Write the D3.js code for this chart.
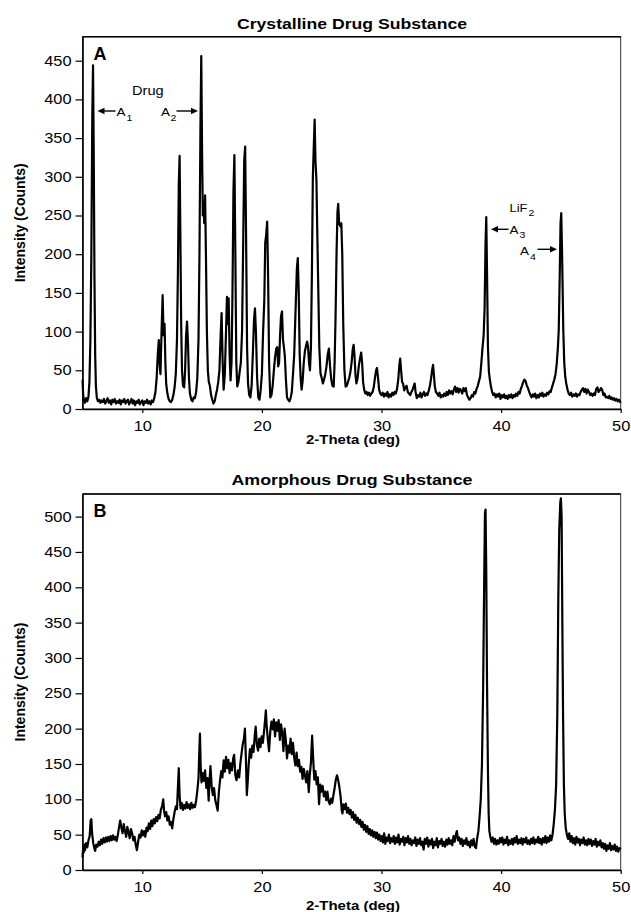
<!DOCTYPE html>
<html><head><meta charset="utf-8">
<script src="https://cdn.jsdelivr.net/npm/d3@7"></script>
<style>
body{margin:0;background:#fff}
svg{display:block}
text{font-family:"Liberation Sans",Arial,Helvetica,sans-serif;fill:#000}
</style>
</head><body>
<svg id="c" width="631" height="912"></svg>
<script>
// ---------------- DATA ----------------
const xTicks = [10, 20, 30, 40, 50];
const yTicksA = [0, 50, 100, 150, 200, 250, 300, 350, 400, 450];
const yTicksB = [0, 50, 100, 150, 200, 250, 300, 350, 400, 450, 500];
const titleA = "Crystalline Drug Substance";
const titleB = "Amorphous Drug Substance";
const xLabel = "2-Theta (deg)";
const yLabel = "Intensity (Counts)";

// Panel A: crystalline drug + LiF2 standard  [2-theta, counts]
const crystalline = [[5.0,38],[5.05,20],[5.1,12],[5.2,8],[5.3,14],[5.4,10],[5.5,16],[5.58,35],[5.66,90],[5.74,200],[5.82,380],[5.88,444],[5.94,330],[6.0,170],[6.06,70],[6.12,30],[6.2,14],[6.3,10],[6.4,12],[6.5,8],[6.6,11],[6.7,9],[6.8,13],[6.9,7],[7.0,10],[7.1,14],[7.2,8],[7.3,11],[7.4,6],[7.5,12],[7.6,9],[7.7,13],[7.8,7],[7.9,10],[8.0,8],[8.1,12],[8.2,6],[8.3,11],[8.4,9],[8.5,13],[8.6,7],[8.7,10],[8.8,12],[8.9,6],[9.0,9],[9.1,13],[9.2,7],[9.3,11],[9.4,5],[9.5,10],[9.6,8],[9.7,12],[9.8,6],[9.9,9],[10.0,11],[10.1,5],[10.2,10],[10.3,8],[10.4,12],[10.5,7],[10.6,10],[10.7,6],[10.8,11],[10.9,9],[11.0,14],[11.1,22],[11.2,40],[11.3,72],[11.38,89],[11.45,58],[11.52,45],[11.6,95],[11.7,147],[11.78,95],[11.86,110],[11.93,60],[12.0,32],[12.1,20],[12.2,13],[12.3,10],[12.4,9],[12.5,12],[12.6,18],[12.7,28],[12.8,45],[12.9,90],[12.98,180],[13.05,290],[13.12,327],[13.18,230],[13.25,110],[13.32,50],[13.4,30],[13.5,28],[13.58,50],[13.66,95],[13.74,113],[13.82,85],[13.9,40],[13.98,20],[14.1,12],[14.2,10],[14.3,15],[14.4,14],[14.5,22],[14.6,40],[14.7,90],[14.78,200],[14.86,360],[14.93,456],[15.0,330],[15.06,250],[15.12,265],[15.18,240],[15.25,276],[15.32,200],[15.4,100],[15.48,50],[15.56,35],[15.65,30],[15.75,18],[15.85,12],[15.95,7],[16.05,10],[16.15,18],[16.25,25],[16.35,35],[16.45,50],[16.55,95],[16.63,124],[16.72,60],[16.8,25],[16.9,45],[17.0,100],[17.08,145],[17.15,110],[17.22,143],[17.3,70],[17.38,37],[17.46,60],[17.54,150],[17.62,280],[17.7,328],[17.78,200],[17.86,60],[17.94,29],[18.04,35],[18.14,48],[18.24,60],[18.34,100],[18.44,220],[18.52,320],[18.6,339],[18.68,220],[18.76,80],[18.84,33],[18.94,18],[19.04,15],[19.14,30],[19.24,70],[19.34,115],[19.42,130],[19.5,100],[19.6,40],[19.7,15],[19.8,12],[19.9,25],[20.0,46],[20.1,100],[20.2,140],[20.28,215],[20.36,225],[20.44,242],[20.52,170],[20.6,60],[20.7,15],[20.8,18],[20.9,30],[21.0,50],[21.1,67],[21.2,78],[21.28,80],[21.36,55],[21.44,60],[21.52,95],[21.6,120],[21.68,126],[21.76,90],[21.84,80],[21.92,68],[22.0,40],[22.1,15],[22.2,12],[22.3,10],[22.4,14],[22.5,22],[22.6,45],[22.7,70],[22.8,120],[22.92,180],[23.0,195],[23.08,150],[23.16,70],[23.24,40],[23.32,25],[23.4,35],[23.5,60],[23.6,75],[23.7,82],[23.78,87],[23.86,80],[23.94,60],[24.02,50],[24.1,80],[24.18,175],[24.26,300],[24.34,340],[24.41,374],[24.48,320],[24.56,295],[24.64,220],[24.72,150],[24.8,80],[24.9,46],[25.0,40],[25.1,33],[25.2,38],[25.3,45],[25.4,55],[25.5,70],[25.6,78],[25.7,55],[25.8,38],[25.9,30],[26.0,29],[26.08,60],[26.16,120],[26.24,200],[26.32,255],[26.38,265],[26.46,240],[26.56,236],[26.64,240],[26.72,200],[26.8,111],[26.9,50],[27.0,29],[27.1,30],[27.2,35],[27.3,40],[27.4,48],[27.5,60],[27.6,78],[27.67,83],[27.74,70],[27.82,45],[27.9,33],[28.0,40],[28.1,55],[28.2,65],[28.3,73],[28.38,60],[28.46,35],[28.55,25],[28.65,20],[28.75,22],[28.85,18],[28.95,21],[29.05,17],[29.15,20],[29.25,22],[29.35,28],[29.45,40],[29.55,50],[29.62,53],[29.7,42],[29.8,25],[29.9,20],[30.0,18],[30.1,21],[30.2,16],[30.3,20],[30.4,17],[30.5,22],[30.6,15],[30.7,19],[30.8,16],[30.9,21],[31.0,18],[31.1,22],[31.2,20],[31.3,26],[31.4,38],[31.5,58],[31.56,65],[31.64,50],[31.72,35],[31.8,33],[31.9,24],[32.0,28],[32.1,30],[32.2,22],[32.3,20],[32.4,18],[32.5,22],[32.6,25],[32.7,30],[32.77,33],[32.85,22],[32.95,14],[33.05,18],[33.15,16],[33.25,21],[33.35,15],[33.45,19],[33.55,22],[33.65,17],[33.75,20],[33.85,18],[33.95,24],[34.05,30],[34.15,40],[34.25,52],[34.31,57],[34.38,45],[34.45,30],[34.55,22],[34.65,20],[34.75,17],[34.85,21],[34.95,15],[35.05,18],[35.15,16],[35.25,20],[35.35,17],[35.45,22],[35.55,18],[35.65,24],[35.75,20],[35.85,23],[35.95,19],[36.05,25],[36.15,29],[36.25,22],[36.35,27],[36.45,21],[36.55,26],[36.65,24],[36.75,20],[36.85,27],[36.95,23],[37.05,27],[37.15,18],[37.25,15],[37.35,12],[37.45,14],[37.55,18],[37.65,16],[37.75,22],[37.85,20],[37.95,26],[38.05,30],[38.15,36],[38.25,42],[38.35,60],[38.45,80],[38.54,95],[38.62,130],[38.7,215],[38.76,248],[38.82,180],[38.9,80],[38.98,48],[39.06,38],[39.15,29],[39.25,22],[39.35,18],[39.45,20],[39.55,15],[39.65,19],[39.75,16],[39.85,20],[39.95,13],[40.05,18],[40.15,15],[40.25,19],[40.35,14],[40.45,17],[40.55,13],[40.65,18],[40.75,15],[40.85,19],[40.95,14],[41.05,18],[41.15,16],[41.25,20],[41.35,17],[41.45,22],[41.55,20],[41.65,26],[41.75,30],[41.85,35],[41.95,38],[42.05,36],[42.15,30],[42.25,27],[42.35,22],[42.45,18],[42.55,15],[42.65,19],[42.75,16],[42.85,20],[42.95,14],[43.05,18],[43.15,15],[43.25,20],[43.35,17],[43.45,21],[43.55,16],[43.65,19],[43.75,17],[43.85,21],[43.95,19],[44.05,23],[44.15,22],[44.25,28],[44.35,33],[44.45,38],[44.55,45],[44.65,58],[44.75,80],[44.82,102],[44.9,170],[44.97,240],[45.03,253],[45.1,200],[45.2,102],[45.28,60],[45.36,42],[45.45,33],[45.55,25],[45.65,20],[45.75,18],[45.85,21],[45.95,16],[46.05,19],[46.15,17],[46.25,20],[46.35,16],[46.45,19],[46.55,18],[46.65,22],[46.75,25],[46.85,27],[46.95,22],[47.05,26],[47.15,20],[47.25,25],[47.35,22],[47.45,18],[47.55,20],[47.65,17],[47.75,20],[47.85,18],[47.95,26],[48.05,28],[48.15,22],[48.25,24],[48.35,27],[48.45,25],[48.55,18],[48.65,20],[48.75,15],[48.85,16],[48.95,14],[49.05,17],[49.15,13],[49.25,15],[49.35,12],[49.45,14],[49.55,11],[49.65,13],[49.75,10],[49.85,12],[49.95,9],[50.0,10]];

// Panel B: amorphous drug + LiF2 standard  [2-theta, counts]
const amorphous = [[5.0,18],[5.05,30],[5.1,25],[5.15,36],[5.2,28],[5.3,38],[5.4,32],[5.5,42],[5.6,48],[5.68,70],[5.74,72],[5.8,52],[5.9,38],[6.0,30],[6.06,27],[6.15,36],[6.25,33],[6.35,40],[6.45,35],[6.55,43],[6.65,37],[6.75,45],[6.85,39],[6.95,46],[7.05,40],[7.15,47],[7.25,41],[7.35,48],[7.45,42],[7.55,49],[7.65,43],[7.75,47],[7.85,41],[7.95,49],[8.05,60],[8.15,70],[8.25,60],[8.35,52],[8.45,65],[8.55,55],[8.65,47],[8.75,61],[8.85,53],[8.95,45],[9.05,58],[9.15,52],[9.25,42],[9.35,47],[9.45,36],[9.55,28],[9.65,40],[9.75,50],[9.85,46],[9.95,56],[10.05,49],[10.15,55],[10.25,47],[10.35,60],[10.45,55],[10.55,66],[10.65,58],[10.75,70],[10.85,62],[10.95,72],[11.05,66],[11.15,75],[11.25,69],[11.35,78],[11.45,73],[11.55,85],[11.65,90],[11.75,100],[11.82,84],[11.9,76],[12.0,82],[12.1,70],[12.2,76],[12.3,64],[12.4,68],[12.5,59],[12.6,72],[12.7,82],[12.8,90],[12.9,86],[12.98,118],[13.05,144],[13.12,105],[13.2,87],[13.3,95],[13.4,85],[13.5,92],[13.6,87],[13.7,96],[13.8,88],[13.9,93],[14.0,86],[14.1,95],[14.2,88],[14.3,92],[14.4,89],[14.5,98],[14.6,112],[14.7,130],[14.76,165],[14.82,193],[14.88,148],[14.95,124],[15.05,137],[15.15,126],[15.25,141],[15.35,116],[15.45,130],[15.55,98],[15.62,126],[15.7,147],[15.8,118],[15.9,106],[16.0,116],[16.1,99],[16.2,92],[16.3,84],[16.4,110],[16.5,127],[16.6,140],[16.7,131],[16.8,155],[16.9,139],[17.0,160],[17.1,144],[17.2,156],[17.3,137],[17.4,151],[17.5,141],[17.6,158],[17.68,163],[17.78,134],[17.88,127],[18.0,141],[18.1,131],[18.2,151],[18.3,165],[18.4,178],[18.5,186],[18.58,200],[18.66,158],[18.74,106],[18.82,126],[18.9,151],[19.0,171],[19.1,159],[19.2,176],[19.3,167],[19.4,190],[19.48,203],[19.58,177],[19.68,169],[19.78,186],[19.88,174],[19.98,189],[20.08,180],[20.18,196],[20.28,215],[20.33,226],[20.4,204],[20.5,184],[20.6,168],[20.7,196],[20.8,210],[20.9,199],[21.0,213],[21.1,189],[21.2,209],[21.3,197],[21.4,212],[21.5,184],[21.6,206],[21.7,194],[21.8,168],[21.9,200],[22.0,184],[22.1,158],[22.2,176],[22.3,166],[22.4,186],[22.5,164],[22.6,180],[22.7,159],[22.8,148],[22.9,166],[23.0,147],[23.1,156],[23.2,139],[23.3,146],[23.4,129],[23.5,143],[23.6,134],[23.7,124],[23.8,140],[23.92,110],[24.0,134],[24.1,152],[24.2,190],[24.28,160],[24.38,128],[24.48,140],[24.58,121],[24.68,131],[24.78,93],[24.88,121],[24.98,111],[25.08,119],[25.18,104],[25.28,111],[25.38,99],[25.48,111],[25.58,97],[25.68,93],[25.78,101],[25.88,95],[25.98,106],[26.08,116],[26.18,128],[26.28,134],[26.38,127],[26.48,117],[26.58,104],[26.68,84],[26.74,80],[26.82,93],[26.92,86],[27.02,94],[27.12,81],[27.22,88],[27.32,79],[27.42,85],[27.52,74],[27.62,82],[27.72,71],[27.82,78],[27.92,67],[28.02,74],[28.12,65],[28.22,71],[28.32,61],[28.42,68],[28.52,57],[28.62,64],[28.72,54],[28.82,62],[28.92,51],[29.02,58],[29.12,49],[29.22,56],[29.32,47],[29.42,54],[29.52,45],[29.62,53],[29.72,43],[29.82,50],[29.92,41],[30.02,48],[30.12,39],[30.22,52],[30.32,37],[30.42,46],[30.52,41],[30.62,50],[30.72,38],[30.82,45],[30.92,40],[31.02,48],[31.12,37],[31.22,46],[31.32,39],[31.42,50],[31.52,36],[31.62,44],[31.72,40],[31.82,47],[31.92,35],[32.02,45],[32.12,39],[32.22,48],[32.32,37],[32.42,44],[32.52,35],[32.62,42],[32.72,38],[32.82,46],[32.92,34],[33.02,43],[33.12,37],[33.22,45],[33.32,35],[33.42,40],[33.52,29],[33.62,44],[33.72,37],[33.82,46],[33.92,33],[34.02,42],[34.12,36],[34.22,44],[34.32,31],[34.42,40],[34.52,35],[34.62,45],[34.72,32],[34.82,41],[34.92,37],[35.02,44],[35.12,34],[35.22,40],[35.32,33],[35.42,43],[35.52,36],[35.62,45],[35.72,37],[35.82,42],[35.92,35],[36.02,48],[36.12,40],[36.22,50],[36.3,55],[36.4,42],[36.5,46],[36.6,37],[36.7,44],[36.8,34],[36.9,42],[37.0,37],[37.1,45],[37.2,35],[37.3,40],[37.4,32],[37.5,42],[37.6,35],[37.7,44],[37.8,33],[37.9,31],[38.0,45],[38.1,55],[38.2,75],[38.3,100],[38.4,150],[38.5,260],[38.58,400],[38.65,505],[38.7,510],[38.76,420],[38.82,270],[38.9,140],[38.96,80],[39.02,55],[39.1,47],[39.2,40],[39.3,46],[39.4,37],[39.5,44],[39.6,36],[39.7,42],[39.8,37],[39.9,45],[40.0,39],[40.1,46],[40.2,36],[40.3,43],[40.4,38],[40.5,47],[40.6,35],[40.7,42],[40.8,37],[40.9,44],[41.0,36],[41.1,45],[41.2,39],[41.3,48],[41.4,37],[41.5,43],[41.6,38],[41.7,45],[41.8,36],[41.9,44],[42.0,39],[42.1,46],[42.2,37],[42.3,42],[42.4,36],[42.5,44],[42.6,38],[42.7,46],[42.8,37],[42.9,43],[43.0,39],[43.1,47],[43.2,38],[43.3,44],[43.4,36],[43.5,45],[43.6,39],[43.7,48],[43.8,38],[43.9,46],[44.0,40],[44.1,49],[44.2,42],[44.3,50],[44.4,65],[44.5,85],[44.6,120],[44.7,220],[44.78,380],[44.86,480],[44.95,520],[45.0,526],[45.06,500],[45.12,350],[45.18,220],[45.25,120],[45.32,80],[45.4,60],[45.5,50],[45.6,44],[45.7,52],[45.8,40],[45.9,48],[46.0,38],[46.1,45],[46.2,36],[46.3,47],[46.4,39],[46.5,44],[46.6,35],[46.7,43],[46.8,38],[46.9,46],[47.0,36],[47.1,42],[47.2,35],[47.3,44],[47.4,37],[47.5,43],[47.6,34],[47.7,41],[47.8,36],[47.9,44],[48.0,33],[48.1,40],[48.2,35],[48.3,42],[48.4,32],[48.5,38],[48.6,30],[48.7,37],[48.8,27],[48.9,35],[49.0,30],[49.1,38],[49.2,28],[49.3,34],[49.4,29],[49.5,36],[49.6,27],[49.7,33],[49.8,26],[49.9,31],[50.0,29]];

// ---------------- DRAWING ----------------
const svg = d3.select("#c");
const SX = 1.17; // horizontal stretch of the scanned lettering
const x = d3.scaleLinear().domain([5, 50]).range([82.5, 620.7]);

const panels = [
  {data: crystalline, yMax: 481, top: 36.7, bottom: 409, ticks: yTicksA, title: titleA, titleY: 29, titleW: 230, letter: "A", letterY: 60, xLabY: 444},
  {data: amorphous,   yMax: 532, top: 494,  bottom: 870, ticks: yTicksB, title: titleB, titleY: 485, titleW: 241, letter: "B", letterY: 517, xLabY: 910}
];

function stretchText(sel, tx, ty, str, size, weight, anchor) {
  return sel.append("text")
    .attr("transform", `translate(${tx},${ty}) scale(${SX},1)`)
    .attr("font-size", size).attr("font-weight", weight || "normal")
    .attr("text-anchor", anchor || "start").text(str);
}

panels.forEach(p => {
  const y = d3.scaleLinear().domain([0, p.yMax]).range([p.bottom, p.top]);
  const g = svg.append("g");

  // frame (top/right)
  g.append("rect")
    .attr("x", x(5)).attr("y", p.top)
    .attr("width", x(50) - x(5)).attr("height", p.bottom - p.top)
    .attr("fill", "none").attr("stroke", "#333").attr("stroke-width", 1);
  g.append("line").attr("x1", x(5)).attr("x2", x(50)).attr("y1", p.top).attr("y2", p.top)
    .attr("stroke", "#000").attr("stroke-width", 1.5);

  // data line
  g.append("path").datum(p.data)
    .attr("d", d3.line().x(d => x(d[0])).y(d => y(d[1])))
    .attr("fill", "none").attr("stroke", "#000")
    .attr("stroke-width", 2.2).attr("stroke-linejoin", "round");

  // x axis
  const gx = g.append("g").attr("transform", `translate(0,${p.bottom})`)
    .call(d3.axisBottom(x).tickValues(xTicks).tickSize(4).tickPadding(8).tickSizeOuter(0));
  gx.select(".domain").attr("stroke-width", 1.6);
  gx.selectAll(".tick line").attr("stroke-width", 1.2);
  gx.selectAll("text").attr("font-size", 14).attr("font-family", '"Liberation Sans",Arial,sans-serif')
    .attr("transform", `scale(${SX},1)`);

  // y axis
  const gy = g.append("g").attr("transform", `translate(${x(5)},0)`)
    .call(d3.axisLeft(y).tickValues(p.ticks).tickSize(7).tickPadding(4).tickSizeOuter(0));
  gy.select(".domain").attr("stroke-width", 1.6);
  gy.selectAll(".tick line").attr("stroke-width", 1.2);
  gy.selectAll("text").attr("font-size", 14).attr("font-family", '"Liberation Sans",Arial,sans-serif')
    .attr("x", 0).attr("transform", `translate(-11,0) scale(${SX},1)`);

  // title
  g.append("text").attr("x", 352).attr("y", p.titleY)
    .attr("text-anchor", "middle").attr("font-size", 15).attr("font-weight", "bold")
    .attr("textLength", p.titleW).attr("lengthAdjust", "spacingAndGlyphs")
    .text(p.title);

  // panel letter
  g.append("text").attr("x", 93.5).attr("y", p.letterY)
    .attr("font-size", 18).attr("font-weight", "bold").text(p.letter);

  // axis titles
  g.append("text").attr("x", 353).attr("y", p.xLabY)
    .attr("text-anchor", "middle").attr("font-size", 13).attr("font-weight", "bold")
    .attr("textLength", 94).attr("lengthAdjust", "spacingAndGlyphs")
    .text(xLabel);
  g.append("text")
    .attr("transform", `translate(25,${(p.top + p.bottom) / 2}) rotate(-90)`)
    .attr("text-anchor", "middle").attr("font-size", 14).attr("font-weight", "bold")
    .text(yLabel);
});

// ---------------- ANNOTATIONS (panel A) ----------------
const ann = svg.append("g");
function arrow(x1, y1, x2, y2) { // tail -> head
  const dir = Math.sign(x2 - x1);
  ann.append("line").attr("x1", x1).attr("y1", y1).attr("x2", x2 - dir * 5).attr("y2", y2)
    .attr("stroke", "#000").attr("stroke-width", 1.4);
  ann.append("path")
    .attr("d", `M${x2},${y2} L${x2 - dir * 7},${y2 - 3.2} L${x2 - dir * 7},${y2 + 3.2} Z`)
    .attr("fill", "#000");
}
stretchText(ann, 132, 94.5, "Drug", 12.5);
arrow(115.5, 111, 97.5, 111);
stretchText(ann, 116.5, 116, "A", 11.5);
stretchText(ann, 126.5, 121, "1", 9);
stretchText(ann, 161, 116, "A", 11.5);
stretchText(ann, 170.5, 121, "2", 9);
arrow(176.5, 111, 198, 111);

stretchText(ann, 509.5, 211.5, "LiF", 11);
stretchText(ann, 528.5, 216, "2", 9);
arrow(508.5, 229.3, 491, 229.3);
stretchText(ann, 509.5, 233.5, "A", 11.5);
stretchText(ann, 519.5, 238, "3", 9);
stretchText(ann, 520, 255, "A", 11.5);
stretchText(ann, 530, 259.5, "4", 9);
arrow(537.5, 249.3, 557, 249.3);
</script>
</body></html>
